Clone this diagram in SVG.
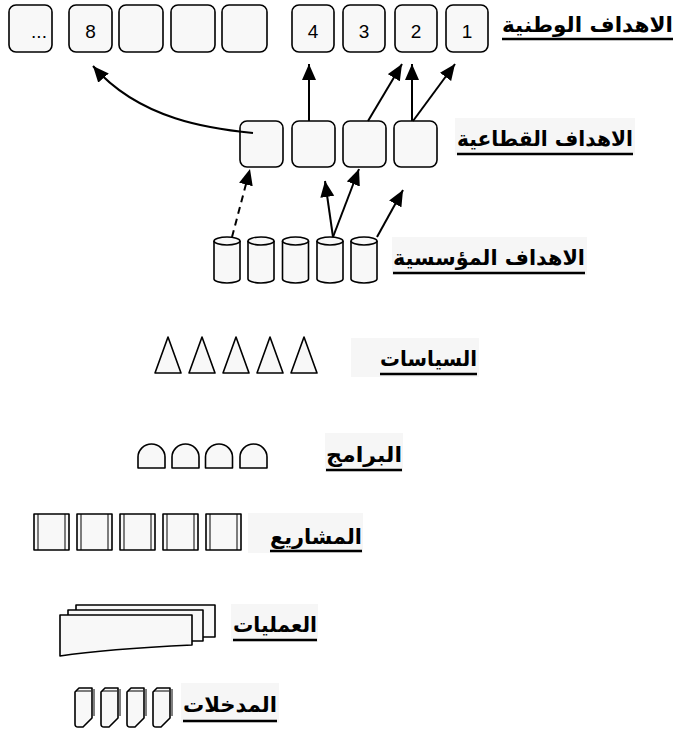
<svg xmlns="http://www.w3.org/2000/svg" width="678" height="735" viewBox="0 0 678 735">
<defs>
<style>
.bx{fill:#f8f8f8;stroke:#000;stroke-width:1.6}
.sh{fill:#f8f8f8;stroke:#000;stroke-width:1.6;stroke-linejoin:round}
.ln{fill:none;stroke:#000;stroke-width:1}
.num{font-family:"Liberation Sans",Arial,sans-serif;font-size:19px;fill:#000;text-anchor:middle}
.lbl{font-family:"DejaVu Sans","Liberation Sans",sans-serif;font-size:21px;font-weight:bold;fill:#000;text-anchor:end}
.lbg{fill:#f6f6f6;stroke:none}
.ul{stroke:#000;stroke-width:2.4}
.ar{fill:none;stroke:#000;stroke-width:2}
</style>
<marker id="ah" markerUnits="userSpaceOnUse" markerWidth="17" markerHeight="15" refX="16" refY="7" orient="auto">
<path d="M0,0 L16,7 L0,14 z" fill="#000"/>
</marker>
</defs>
<rect width="678" height="735" fill="#fff"/>

<g id="national">
<rect class="bx" x="9" y="5" width="43" height="47" rx="7"/><text class="num" x="39" y="38">...</text>
<rect class="bx" x="69" y="5" width="43" height="47" rx="7"/><text class="num" x="90.5" y="38">8</text>
<rect class="bx" x="119" y="5" width="44" height="47" rx="7"/>
<rect class="bx" x="171" y="5" width="44" height="47" rx="7"/>
<rect class="bx" x="222" y="5" width="45" height="47" rx="7"/>
<rect class="bx" x="292" y="5" width="42" height="47" rx="7"/><text class="num" x="313" y="38">4</text>
<rect class="bx" x="343" y="5" width="42" height="47" rx="7"/><text class="num" x="364" y="38">3</text>
<rect class="bx" x="395" y="5" width="42" height="47" rx="7"/><text class="num" x="416" y="38">2</text>
<rect class="bx" x="446" y="5" width="42" height="47" rx="7"/><text class="num" x="467" y="38">1</text>
<text class="lbl" x="673" y="32" textLength="171" lengthAdjust="spacingAndGlyphs">الاهداف الوطنية</text>
<line class="ul" x1="502" y1="39" x2="673" y2="39"/>
</g>

<g id="sectoral">
<rect class="bx" x="240" y="121" width="43" height="46" rx="7"/>
<rect class="bx" x="292" y="121" width="43" height="46" rx="7"/>
<rect class="bx" x="343" y="121" width="43" height="46" rx="7"/>
<rect class="bx" x="394" y="121" width="43" height="46" rx="7"/>
<rect class="lbg" x="455" y="118" width="180" height="37"/>
<text class="lbl" x="633" y="146" textLength="176" lengthAdjust="spacingAndGlyphs">الاهداف القطاعية</text>
<line class="ul" x1="457" y1="154" x2="633" y2="154"/>
</g>

<g id="institutional">
<g transform="translate(214,0)"><path class="sh" d="M0,241 L0,279 A13,4 0 0 0 26,279 L26,241 A13,4 0 0 0 0,241 Z"/><path class="sh" d="M0,241 A13,4 0 0 0 26,241" fill="none"/></g>
<g transform="translate(248,0)"><path class="sh" d="M0,241 L0,279 A13,4 0 0 0 26,279 L26,241 A13,4 0 0 0 0,241 Z"/><path class="sh" d="M0,241 A13,4 0 0 0 26,241" fill="none"/></g>
<g transform="translate(282.5,0)"><path class="sh" d="M0,241 L0,279 A13,4 0 0 0 26,279 L26,241 A13,4 0 0 0 0,241 Z"/><path class="sh" d="M0,241 A13,4 0 0 0 26,241" fill="none"/></g>
<g transform="translate(317,0)"><path class="sh" d="M0,241 L0,279 A13,4 0 0 0 26,279 L26,241 A13,4 0 0 0 0,241 Z"/><path class="sh" d="M0,241 A13,4 0 0 0 26,241" fill="none"/></g>
<g transform="translate(351,0)"><path class="sh" d="M0,241 L0,279 A13,4 0 0 0 26,279 L26,241 A13,4 0 0 0 0,241 Z"/><path class="sh" d="M0,241 A13,4 0 0 0 26,241" fill="none"/></g>
<rect class="lbg" x="392" y="237" width="195" height="38"/>
<text class="lbl" x="585" y="265" textLength="192" lengthAdjust="spacingAndGlyphs">الاهداف المؤسسية</text>
<line class="ul" x1="393" y1="273" x2="585" y2="273"/>
</g>

<g id="policies">
<path class="sh" d="M155,373 L168,337 L181,373 Z"/>
<path class="sh" d="M189,373 L202,337 L215,373 Z"/>
<path class="sh" d="M223,373 L236,337 L249,373 Z"/>
<path class="sh" d="M257,373 L270,337 L283,373 Z"/>
<path class="sh" d="M291,373 L304,337 L317,373 Z"/>
<rect class="lbg" x="351" y="338" width="128" height="39"/>
<text class="lbl" x="477" y="366" textLength="97" lengthAdjust="spacingAndGlyphs">السياسات</text>
<line class="ul" x1="380" y1="374" x2="477" y2="374"/>
</g>

<g id="programs">
<path class="sh" d="M138,468 L138,457 A13.5,13 0 0 1 165,457 L165,468 Z"/>
<path class="sh" d="M172,468 L172,457 A13.5,13 0 0 1 199,457 L199,468 Z"/>
<path class="sh" d="M205.5,468 L205.5,457 A13.5,13 0 0 1 232.5,457 L232.5,468 Z"/>
<path class="sh" d="M240,468 L240,457 A13.5,13 0 0 1 267,457 L267,468 Z"/>
<rect class="lbg" x="325" y="433" width="78" height="39"/>
<text class="lbl" x="402" y="462" textLength="76" lengthAdjust="spacingAndGlyphs">البرامج</text>
<line class="ul" x1="326" y1="470" x2="402" y2="470"/>
</g>

<g id="projects">
<g><rect class="sh" x="34" y="514" width="35" height="36"/><line class="ln" x1="38" y1="514" x2="38" y2="550"/><line class="ln" x1="65" y1="514" x2="65" y2="550"/></g>
<g><rect class="sh" x="77" y="514" width="35" height="36"/><line class="ln" x1="81" y1="514" x2="81" y2="550"/><line class="ln" x1="108" y1="514" x2="108" y2="550"/></g>
<g><rect class="sh" x="120" y="514" width="35" height="36"/><line class="ln" x1="124" y1="514" x2="124" y2="550"/><line class="ln" x1="151" y1="514" x2="151" y2="550"/></g>
<g><rect class="sh" x="163" y="514" width="35" height="36"/><line class="ln" x1="167" y1="514" x2="167" y2="550"/><line class="ln" x1="194" y1="514" x2="194" y2="550"/></g>
<g><rect class="sh" x="206" y="514" width="35" height="36"/><line class="ln" x1="210" y1="514" x2="210" y2="550"/><line class="ln" x1="237" y1="514" x2="237" y2="550"/></g>
<rect class="lbg" x="248" y="513" width="115" height="40"/>
<text class="lbl" x="362" y="544" textLength="92" lengthAdjust="spacingAndGlyphs">المشاريع</text>
<line class="ul" x1="270" y1="551" x2="362" y2="551"/>
</g>

<g id="operations">
<path class="sh" d="M76,605 L215,605 L215,637 L76,637 Z"/>
<path class="sh" d="M68,610 L203,610 L203,641 L68,641 Z"/>
<path class="sh" d="M60,615 L192,615 L192,645 C150,647 100,650 60,656 Z"/>
<rect class="lbg" x="231" y="604" width="87" height="38"/>
<text class="lbl" x="317" y="632" textLength="84" lengthAdjust="spacingAndGlyphs">العمليات</text>
<line class="ul" x1="233" y1="640" x2="317" y2="640"/>
</g>

<g id="inputs">
<g transform="translate(75,0)"><path class="sh" d="M0,692 L4,688 L17,688 L17,718 L8,727 L3,727 Q0,727 0,724 Z"/><line class="ln" x1="1" y1="691" x2="16" y2="691"/><line class="ln" x1="19" y1="689" x2="19" y2="716"/></g>
<g transform="translate(101,0)"><path class="sh" d="M0,692 L4,688 L17,688 L17,718 L8,727 L3,727 Q0,727 0,724 Z"/><line class="ln" x1="1" y1="691" x2="16" y2="691"/><line class="ln" x1="19" y1="689" x2="19" y2="716"/></g>
<g transform="translate(127,0)"><path class="sh" d="M0,692 L4,688 L17,688 L17,718 L8,727 L3,727 Q0,727 0,724 Z"/><line class="ln" x1="1" y1="691" x2="16" y2="691"/><line class="ln" x1="19" y1="689" x2="19" y2="716"/></g>
<g transform="translate(153,0)"><path class="sh" d="M0,692 L4,688 L17,688 L17,718 L8,727 L3,727 Q0,727 0,724 Z"/><line class="ln" x1="1" y1="691" x2="16" y2="691"/><line class="ln" x1="19" y1="689" x2="19" y2="716"/></g>
<rect class="lbg" x="181" y="683" width="98" height="40"/>
<text class="lbl" x="277" y="712" textLength="94" lengthAdjust="spacingAndGlyphs">المدخلات</text>
<line class="ul" x1="183" y1="721" x2="277" y2="721"/>
</g>

<g id="connectors">
<path class="ar" d="M253,133 C212,129 140,120 93,66" marker-end="url(#ah)"/>
<path class="ar" d="M309,121 L309,64" marker-end="url(#ah)"/>
<path class="ar" d="M368,121 L402,64" marker-end="url(#ah)"/>
<path class="ar" d="M412,121 L412,64" marker-end="url(#ah)"/>
<path class="ar" d="M413,121 L455,64" marker-end="url(#ah)"/>
<path class="ar" d="M232,237 L250,169" stroke-dasharray="7,5" marker-end="url(#ah)"/>
<path class="ar" d="M333,237 L325,181" marker-end="url(#ah)"/>
<path class="ar" d="M333,237 L359,169" marker-end="url(#ah)"/>
<path class="ar" d="M377,237 L403,190" marker-end="url(#ah)"/>
</g>
</svg>
